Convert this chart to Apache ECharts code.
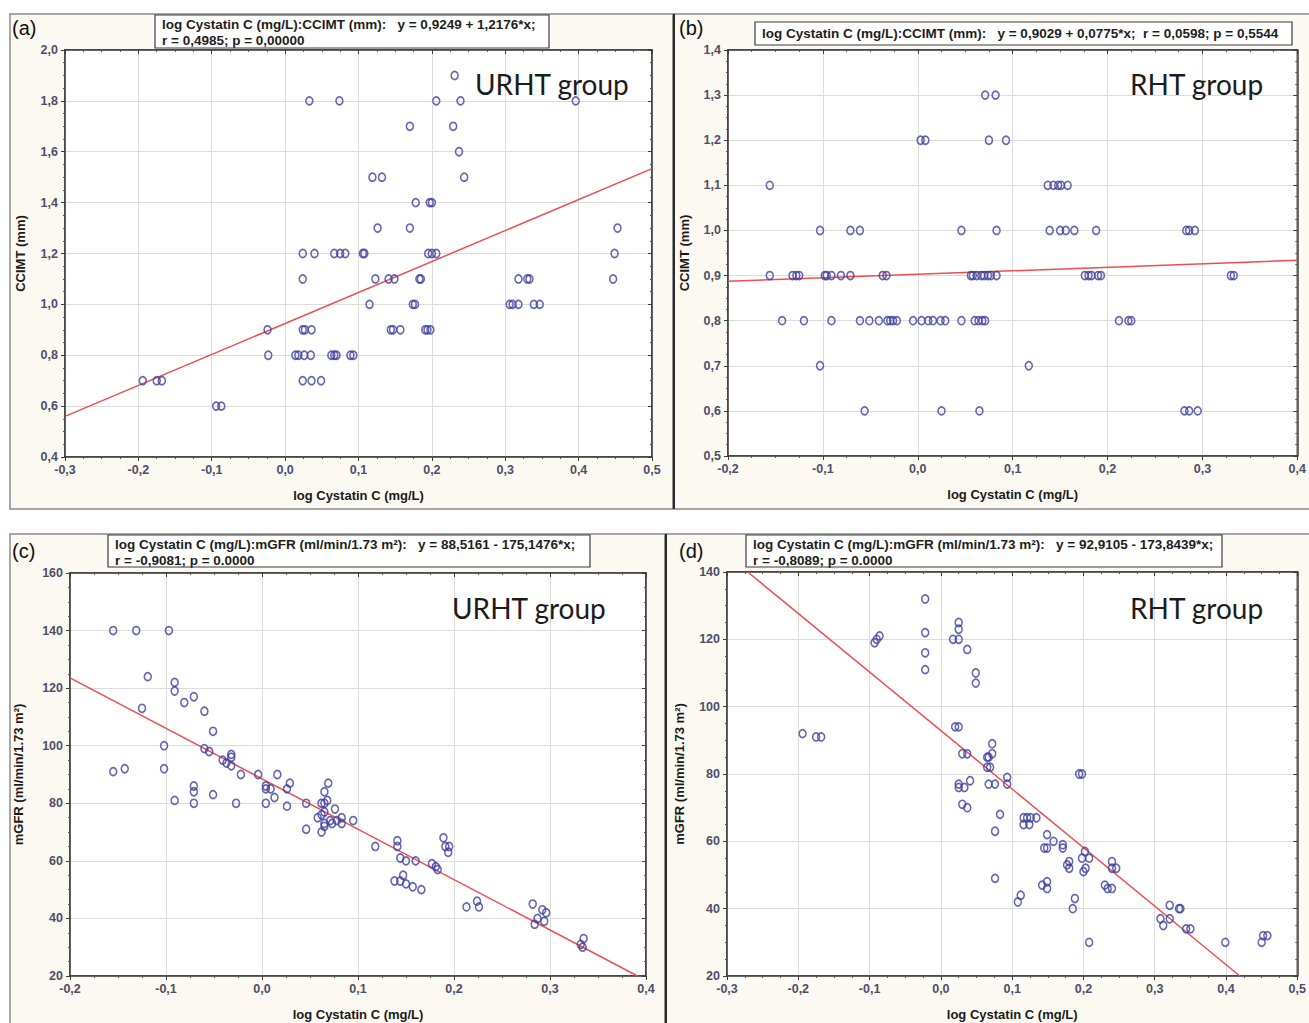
<!DOCTYPE html>
<html>
<head>
<meta charset="utf-8">
<script src="https://cdn.jsdelivr.net/npm/echarts@6/dist/echarts.min.js"></script>
<style>
html,body{margin:0;padding:0;background:#fff;}
#chart{width:1309px;height:1023px;}
</style>
</head>
<body>
<div id="chart"></div>
<script>
// points: [log Cystatin C (mg/L), value]
var urhtCcimt = [
	[0.231,1.9],
	[0.033,1.8],[0.074,1.8],[0.206,1.8],[0.239,1.8],[0.396,1.8],
	[0.170,1.7],[0.229,1.7],
	[0.237,1.6],
	[0.119,1.5],[0.132,1.5],[0.244,1.5],
	[0.178,1.4],[0.197,1.4],[0.200,1.4],
	[0.126,1.3],[0.170,1.3],[0.453,1.3],
	[0.024,1.2],[0.040,1.2],[0.067,1.2],[0.075,1.2],[0.082,1.2],[0.106,1.2],[0.108,1.2],[0.195,1.2],[0.200,1.2],[0.206,1.2],[0.449,1.2],
	[0.024,1.1],[0.123,1.1],[0.141,1.1],[0.149,1.1],[0.183,1.1],[0.185,1.1],[0.318,1.1],[0.330,1.1],[0.333,1.1],[0.447,1.1],
	[0.115,1.0],[0.174,1.0],[0.177,1.0],[0.306,1.0],[0.310,1.0],[0.318,1.0],[0.339,1.0],[0.347,1.0],
	[-0.024,0.9],[0.024,0.9],[0.027,0.9],[0.036,0.9],[0.144,0.9],[0.147,0.9],[0.157,0.9],[0.191,0.9],[0.194,0.9],[0.198,0.9],
	[-0.023,0.8],[0.014,0.8],[0.018,0.8],[0.026,0.8],[0.035,0.8],[0.063,0.8],[0.067,0.8],[0.070,0.8],[0.089,0.8],[0.093,0.8],
	[-0.194,0.7],[-0.175,0.7],[-0.168,0.7],[0.024,0.7],[0.036,0.7],[0.049,0.7],
	[-0.094,0.6],[-0.087,0.6]
];
var rhtCcimt = [
	[0.071,1.3],[0.082,1.3],
	[0.003,1.2],[0.008,1.2],[0.075,1.2],[0.093,1.2],
	[-0.156,1.1],[0.137,1.1],[0.143,1.1],[0.148,1.1],[0.151,1.1],[0.158,1.1],
	[-0.103,1.0],[-0.071,1.0],[-0.061,1.0],[0.046,1.0],[0.083,1.0],[0.139,1.0],[0.150,1.0],[0.156,1.0],[0.165,1.0],[0.188,1.0],[0.283,1.0],[0.286,1.0],[0.292,1.0],
	[-0.156,0.9],[-0.132,0.9],[-0.128,0.9],[-0.125,0.9],[-0.098,0.9],[-0.096,0.9],[-0.091,0.9],[-0.081,0.9],[-0.071,0.9],[-0.037,0.9],[-0.033,0.9],
	[0.056,0.9],[0.058,0.9],[0.062,0.9],[0.067,0.9],[0.070,0.9],[0.074,0.9],[0.077,0.9],[0.083,0.9],[0.176,0.9],[0.180,0.9],[0.183,0.9],[0.190,0.9],[0.193,0.9],[0.330,0.9],[0.333,0.9],
	[-0.143,0.8],[-0.120,0.8],[-0.091,0.8],[-0.061,0.8],[-0.051,0.8],[-0.041,0.8],[-0.032,0.8],[-0.029,0.8],[-0.026,0.8],[-0.022,0.8],[-0.005,0.8],[0.004,0.8],
	[0.011,0.8],[0.016,0.8],[0.024,0.8],[0.029,0.8],[0.046,0.8],[0.060,0.8],[0.064,0.8],[0.068,0.8],[0.071,0.8],[0.212,0.8],[0.222,0.8],[0.225,0.8],
	[-0.103,0.7],[0.117,0.7],
	[-0.056,0.6],[0.025,0.6],[0.065,0.6],[0.281,0.6],[0.286,0.6],[0.295,0.6]
];
var urhtGfr = [
	[-0.155,140],[-0.131,140],[-0.097,140],
	[-0.119,124],[-0.125,113],[-0.091,122],[-0.091,119],[-0.081,115],[-0.071,117],[-0.060,112],[-0.051,105],
	[-0.102,100],[-0.060,99],[-0.055,98],[-0.032,97],[-0.032,96],[-0.041,95],[-0.037,94],[-0.032,93],
	[-0.155,91],[-0.143,92],[-0.102,92],[-0.022,90],[-0.004,90],[0.016,90],
	[-0.091,81],[-0.071,86],[-0.071,84],[-0.071,80],[-0.051,83],[-0.027,80],
	[0.004,86],[0.004,85],[0.009,85],[0.004,80],[0.013,82],[0.029,87],[0.026,85],[0.026,79],[0.046,80],[0.046,71],
	[0.069,87],[0.065,84],[0.068,81],[0.062,80],[0.065,80],[0.062,76],[0.058,75],[0.065,77],[0.076,78],[0.071,74],
	[0.073,73],[0.065,73],[0.062,70],[0.078,74],[0.083,75],[0.083,73],[0.095,74],[0.065,72],
	[0.118,65],[0.141,67],[0.141,65],[0.144,61],[0.150,60],[0.160,60],[0.147,55],[0.138,53],[0.144,53],[0.150,52],[0.157,51],[0.166,50],
	[0.177,59],[0.181,58],[0.183,57],[0.189,68],[0.191,65],[0.195,65],[0.194,63],
	[0.213,44],[0.224,46],[0.226,44],
	[0.282,45],[0.284,38],[0.287,40],[0.292,43],[0.296,42],[0.294,39],
	[0.335,33],[0.332,31],[0.334,30]
];
var rhtGfr = [
	[-0.022,132],[-0.022,122],[-0.022,116],[-0.022,111],
	[-0.093,119],[-0.090,120],[-0.086,121],
	[0.025,125],[0.025,123],[0.017,120],[0.025,120],[0.037,117],[0.049,110],[0.049,107],
	[-0.194,92],[-0.175,91],[-0.168,91],
	[0.020,94],[0.025,94],[0.030,86],[0.037,86],
	[0.072,89],[0.072,86],[0.065,85],[0.067,85],[0.065,82],[0.069,82],[0.093,79],
	[0.194,80],[0.198,80],
	[0.025,77],[0.025,76],[0.033,76],[0.041,78],[0.067,77],[0.076,77],[0.093,77],
	[0.030,71],[0.037,70],[0.083,68],[0.076,63],[0.076,49],
	[0.116,67],[0.121,67],[0.126,67],[0.134,67],[0.116,65],[0.124,65],
	[0.149,62],[0.158,60],[0.145,58],[0.149,58],[0.171,59],[0.171,58],
	[0.180,54],[0.177,53],[0.180,52],
	[0.202,57],[0.198,55],[0.208,55],[0.203,52],[0.200,51],
	[0.240,54],[0.240,52],[0.246,52],[0.230,47],[0.234,46],[0.240,46],
	[0.142,47],[0.149,48],[0.149,46],
	[0.112,44],[0.108,42],[0.188,43],[0.185,40],[0.208,30],
	[0.308,37],[0.312,35],[0.321,37],[0.321,41],[0.334,40],[0.336,40],[0.344,34],[0.350,34],
	[0.399,30],[0.450,30],[0.452,32],[0.458,32]
];

// fitted lines, end points where they leave the plot
var fitUrhtCcimt = [[-0.3,0.5596],[0.5,1.5337]];
var fitRhtCcimt = [[-0.2,0.8874],[0.4,0.9339]];
var fitUrhtGfr = [[-0.2,123.55],[0.3912,20]];
var fitRhtGfr = [[-0.2709,140],[0.4194,20]];

// axis ranges [min, max, step]
var xRangeA = [-0.3,0.5,0.1], yRangeA = [0.4,2.0,0.2];
var xRangeB = [-0.2,0.4,0.1], yRangeB = [0.5,1.4,0.1];
var xRangeC = [-0.2,0.4,0.1], yRangeC = [20,160,20];
var xRangeD = [-0.3,0.5,0.1], yRangeD = [20,140,20];

var panelTags = ['(a)','(b)','(c)','(d)'];
var groupNames = ['URHT group','RHT group','URHT group','RHT group'];
var xTitle = 'log Cystatin C (mg/L)';
var yTitles = ['CCIMT (mm)','CCIMT (mm)','mGFR (ml/min/1.73 m\u00b2)','mGFR (ml/min/1.73 m\u00b2)'];
var statLines = [
	['log Cystatin C (mg/L):CCIMT (mm):   y = 0,9249 + 1,2176*x;', 'r = 0,4985; p = 0,00000'],
	['log Cystatin C (mg/L):CCIMT (mm):   y = 0,9029 + 0,0775*x;  r = 0,0598; p = 0,5544'],
	['log Cystatin C (mg/L):mGFR (ml/min/1.73 m\u00b2):   y = 88,5161 - 175,1476*x;', 'r = -0,9081; p = 0.0000'],
	['log Cystatin C (mg/L):mGFR (ml/min/1.73 m\u00b2):   y = 92,9105 - 173,8439*x;', 'r = -0,8089; p = 0.0000']
];

var FONT = "'Liberation Sans', Arial, sans-serif";
var TICKCOL = '#4e4e6c';

var panels = [
	{grid:{left:65,top:50,width:587,height:407}, xr:xRangeA, yr:yRangeA, yd:1, yGap:38, data:urhtCcimt, fit:fitUrhtCcimt,
		box:[155,15,394,33], tag:[12,28], group:[475,84]},
	{grid:{left:728,top:50,width:580,height:406}, xr:xRangeB, yr:yRangeB, yd:1, yGap:37, data:rhtCcimt, fit:fitRhtCcimt,
		box:[755,22,537,23], tag:[679,28], group:[1130,84]},
	{grid:{left:70,top:573,width:576,height:403}, xr:xRangeC, yr:yRangeC, yd:0, yGap:45, data:urhtGfr, fit:fitUrhtGfr,
		box:[108,535,482,32], tag:[12,551], group:[452,608]},
	{grid:{left:727,top:572,width:575,height:404}, xr:xRangeD, yr:yRangeD, yd:0, yGap:41, data:rhtGfr, fit:fitRhtGfr,
		box:[746,535,476,32], tag:[679,551], group:[1130,608]}
];

function fmt(d){
	return function(v){ return v.toFixed(d).replace('.', ','); };
}

var grids = [], xAxes = [], yAxes = [], series = [];
var axisLineStyle = {color:'#3c3c3c', width:1.5};
var nameStyle = {color:'#1a1a1a', fontSize:13, fontWeight:'bold', fontFamily:FONT};

panels.forEach(function(p, i){
	grids.push({left:p.grid.left, top:p.grid.top, width:p.grid.width, height:p.grid.height,
		show:true, backgroundColor:'#ffffff', borderColor:'#3c3c3c', borderWidth:1.5});
	var labelStyle = {color:TICKCOL, fontSize:12.5, fontFamily:FONT, fontWeight:'bold'};
	xAxes.push({
		gridIndex:i, type:'value', position:'bottom',
		min:p.xr[0], max:p.xr[1], interval:p.xr[2],
		axisLine:{show:true, onZero:false, lineStyle:axisLineStyle},
		axisTick:{show:true, length:4, lineStyle:{color:'#3c3c3c'}},
		minorTick:{show:true, splitNumber:4, length:2, lineStyle:{color:'#555'}},
		splitLine:{show:true, lineStyle:{color:'#dcdcdc', width:1}},
		axisLabel:Object.assign({formatter:fmt(1), margin:6, showMinLabel:true, showMaxLabel:true}, labelStyle),
		name:xTitle, nameLocation:'middle', nameGap:32, nameTextStyle:nameStyle
	});
	xAxes.push({
		gridIndex:i, type:'value', position:'top',
		min:p.xr[0], max:p.xr[1], interval:p.xr[2],
		axisLine:{show:true, onZero:false, lineStyle:axisLineStyle},
		axisTick:{show:true, inside:true, length:4, lineStyle:{color:'#3c3c3c'}},
		minorTick:{show:true, splitNumber:4, length:2, lineStyle:{color:'#555'}},
		splitLine:{show:false}, axisLabel:{show:false}
	});
	yAxes.push({
		gridIndex:i, type:'value', position:'left',
		min:p.yr[0], max:p.yr[1], interval:p.yr[2],
		axisLine:{show:true, onZero:false, lineStyle:axisLineStyle},
		axisTick:{show:true, length:4, lineStyle:{color:'#3c3c3c'}},
		minorTick:{show:true, splitNumber:4, length:2, lineStyle:{color:'#555'}},
		splitLine:{show:true, lineStyle:{color:'#dcdcdc', width:1}},
		axisLabel:Object.assign({formatter:fmt(p.yd), margin:7, showMinLabel:true, showMaxLabel:true}, labelStyle),
		name:yTitles[i], nameLocation:'middle', nameGap:p.yGap, nameRotate:90, nameTextStyle:nameStyle
	});
	yAxes.push({
		gridIndex:i, type:'value', position:'right',
		min:p.yr[0], max:p.yr[1], interval:p.yr[2],
		axisLine:{show:true, onZero:false, lineStyle:axisLineStyle},
		axisTick:{show:true, inside:true, length:4, lineStyle:{color:'#3c3c3c'}},
		minorTick:{show:true, splitNumber:4, length:2, lineStyle:{color:'#555'}},
		splitLine:{show:false}, axisLabel:{show:false}
	});
	series.push({
		type:'line', xAxisIndex:2*i, yAxisIndex:2*i, data:p.fit,
		symbol:'none', silent:true, z:2,
		lineStyle:{color:'#ee4e4e', width:1.5}
	});
	series.push({
		type:'scatter', xAxisIndex:2*i, yAxisIndex:2*i, data:p.data,
		symbol:'circle', symbolSize:[7,8], silent:true, z:3,
		itemStyle:{color:'rgba(0,0,0,0)', borderColor:'#3f3f9f', borderWidth:1.6}
	});
});

// panel frames, tags, stat boxes and group names
var graphics = [
	{type:'rect', z:-10, shape:{x:10,y:14,width:663,height:495}, style:{fill:'#fbf9f1', stroke:'#8c8c8c', lineWidth:1.5}},
	{type:'rect', z:-10, shape:{x:673,y:14,width:640,height:495}, style:{fill:'#fbf9f1', stroke:'#8c8c8c', lineWidth:1.5}},
	{type:'rect', z:-10, shape:{x:10,y:534,width:655,height:495}, style:{fill:'#fbf9f1', stroke:'#8c8c8c', lineWidth:1.5}},
	{type:'rect', z:-10, shape:{x:665,y:534,width:650,height:495}, style:{fill:'#fbf9f1', stroke:'#8c8c8c', lineWidth:1.5}},
	{type:'line', z:-9, shape:{x1:674,y1:14,x2:674,y2:509}, style:{stroke:'#2a2a2a', lineWidth:2}},
	{type:'line', z:-9, shape:{x1:666,y1:534,x2:666,y2:1023}, style:{stroke:'#2a2a2a', lineWidth:2}}
];
panels.forEach(function(p, i){
	var b = p.box;
	graphics.push({type:'rect', z:10, shape:{x:b[0],y:b[1],width:b[2],height:b[3]}, style:{fill:'#ffffff', stroke:null}});
	var lines = statLines[i];
	lines.forEach(function(t, k){
		var ty = lines.length === 1 ? b[1] + b[3]/2 : b[1] + 9 + k*16;
		graphics.push({type:'text', z:11, x:b[0]+7, y:ty,
			style:{text:t, fill:'#1e1e1e', font:'bold 13.5px ' + FONT, textVerticalAlign:'middle'}});
	});
	graphics.push({type:'rect', z:12, shape:{x:b[0],y:b[1],width:b[2],height:b[3]}, style:{fill:null, stroke:'#3c3c3c', lineWidth:1.2}});
	graphics.push({type:'text', z:11, x:p.tag[0], y:p.tag[1],
		style:{text:panelTags[i], fill:'#111', font:'20px ' + FONT, textVerticalAlign:'middle'}});
	graphics.push({type:'text', z:11, x:p.group[0], y:p.group[1],
		style:{text:groupNames[i], fill:'#1c1c1c', font:'28px Lato, sans-serif', textVerticalAlign:'middle'}});
});

var chart = echarts.init(document.getElementById('chart'), null, {renderer:'svg'});
chart.setOption({
	animation:false,
	backgroundColor:'#ffffff',
	grid:grids,
	xAxis:xAxes,
	yAxis:yAxes,
	series:series,
	graphic:{elements:graphics}
});
</script>
</body>
</html>
